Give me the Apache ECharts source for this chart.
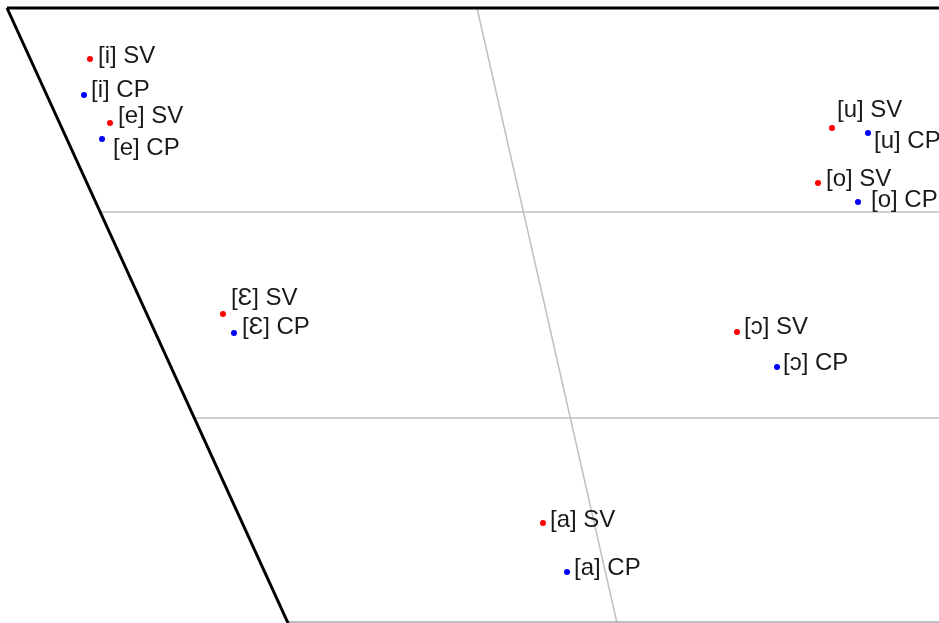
<!DOCTYPE html>
<html lang="en">
<head>
    <meta charset="UTF-8">
    <title>Vowel chart SV / CP</title>
    <script src="https://cdn.jsdelivr.net/npm/echarts@6/dist/echarts.min.js"></script>
    <style>
        *{
            margin:0;
            padding:0;
            overflow: hidden;
        }
        #main{
            width:939px;
            height:623px;
            background:#fff;
        }
    </style>
</head>
<body>
    <div id="main"></div>
    <script>
        // vowels and their chart positions (x = backness, y = height, chart units)
        var vowels = ['i', 'e', 'Ɛ', 'a', 'ɔ', 'o', 'u']
        var svX = [90, 110, 223, 543, 737, 818, 832]
        var svY = [59, 123, 314, 523, 332, 183, 128]
        var cpX = [84, 102, 234, 567, 777, 858, 868]
        var cpY = [95, 139, 333, 572, 367, 202, 133]

        // label nudges [dx, dy] so the texts don't overlap
        var svLabelOffset = [[1, -3], [1, -7], [1, -16], [0, -3], [0, -5], [1, -4], [-2, -18]]
        var cpLabelOffset = [[0, -5], [4, 9], [1, -6], [0, -4], [-1, -4], [6, -2], [-1, 8]]

        // trapezoid frame and grid lines
        var frameTop = [[7, 8], [960, 8]]
        var frameLeft = [[7, 8], [288, 623]]
        var frameBottom = [[288, 622], [960, 622]]
        var midLine = [[477, 8], [617, 623]]
        var closeMid = [[100, 212], [960, 212]]
        var openMid = [[195, 418], [960, 418]]

        function points(xs, ys, offs, tag){
            var out = []
            for (var i = 0; i < vowels.length; i++){
                out.push({
                    name: '[' + vowels[i] + '] ' + tag,
                    value: [xs[i], ys[i]],
                    label: {offset: offs[i]}
                })
            }
            return out
        }

        function guide(data, color, width){
            return {
                type: 'line',
                data: data,
                symbol: 'none',
                silent: true,
                animation: false,
                z: 1,
                lineStyle: {color: color, width: width}
            }
        }

        var labelStyle = {
            show: true,
            position: 'right',
            distance: 4,
            formatter: '{b}',
            color: '#1a1a1a',
            fontSize: 24,
            fontFamily: 'Liberation Sans, Arial, sans-serif'
        }

        var myChart = echarts.init(document.getElementById('main'))
        var option = {
            animation: false,
            grid: {left: 0, right: 0, top: 0, bottom: 0},
            xAxis: {type: 'value', min: 0, max: 939, show: false},
            yAxis: {type: 'value', min: 0, max: 623, inverse: true, show: false},
            series: [
                guide(closeMid, '#c0c0c0', 1.5),
                guide(openMid, '#c0c0c0', 1.5),
                guide(midLine, '#c0c0c0', 1.5),
                guide(frameBottom, '#a8a8a8', 1.5),
                guide(frameTop, '#000', 3),
                guide(frameLeft, '#000', 3),
                {
                    type: 'scatter',
                    data: points(svX, svY, svLabelOffset, 'SV'),
                    symbolSize: 6,
                    itemStyle: {color: '#ff0000', opacity: 1},
                    label: labelStyle,
                    z: 3
                },
                {
                    type: 'scatter',
                    data: points(cpX, cpY, cpLabelOffset, 'CP'),
                    symbolSize: 6,
                    itemStyle: {color: '#0000ff', opacity: 1},
                    label: labelStyle,
                    z: 3
                }
            ]
        }
        myChart.setOption(option)
    </script>
</body>
</html>
